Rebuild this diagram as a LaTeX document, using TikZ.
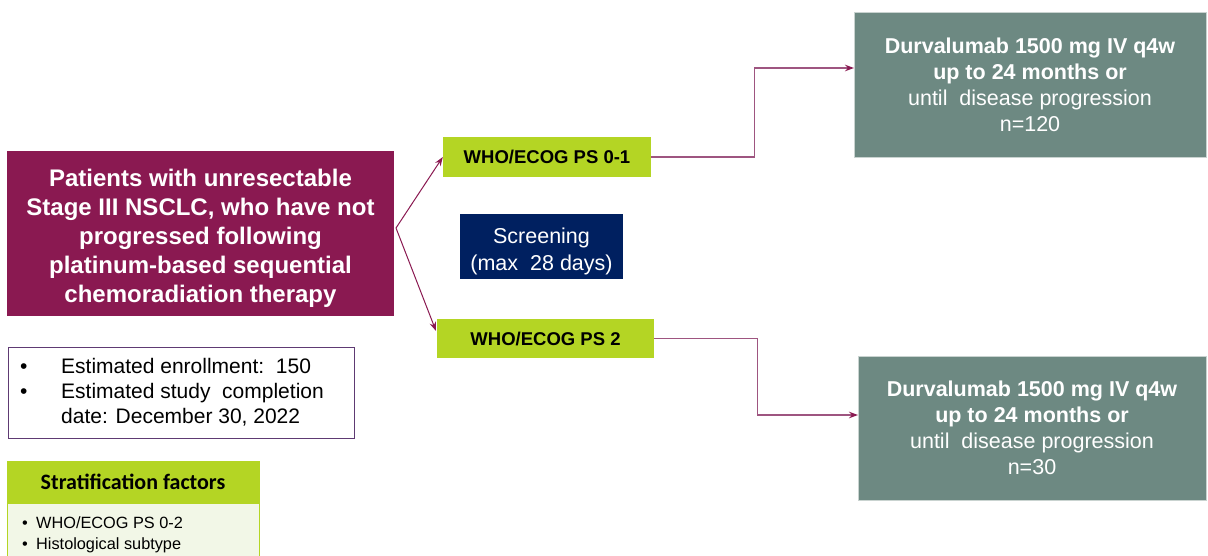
\documentclass[tikz,border=0pt]{standalone}
\usepackage{fontspec}
\setmainfont{Liberation Sans}
\newfontfamily\calibfont{Carlito}
\usetikzlibrary{arrows.meta}
\definecolor{plum}{HTML}{8A1951}
\definecolor{plumline}{HTML}{9E5580}
\definecolor{lime}{HTML}{B4D524}
\definecolor{navy}{HTML}{002060}
\definecolor{slate}{HTML}{6D8982}
\definecolor{slateedge}{HTML}{C9D3D0}
\definecolor{palegreen}{HTML}{F2F7E7}
\definecolor{infoborder}{HTML}{5E3A73}
\begin{document}
\begin{tikzpicture}[x=1pt,y=-1pt,
  box/.style={rectangle, inner sep=0pt, align=center},
  plumbox/.style={box, fill=plum, text=white, minimum width=387pt, minimum height=165pt,
    font=\bfseries\fontsize{24}{29}\selectfont},
  limebox/.style={box, fill=lime, text=black, font=\bfseries\fontsize{18.5}{22}\selectfont},
  screenbox/.style={box, fill=navy, text=white, minimum width=163pt, minimum height=65pt,
    font=\fontsize{21.5}{27}\selectfont},
  durvbox/.style={box, fill=slate, draw=slateedge, line width=0.8pt, text=white,
    font=\fontsize{21.5}{26}\selectfont},
  infobox/.style={rectangle, draw=infoborder, line width=0.9pt, minimum width=346pt, minimum height=91pt, inner sep=0pt},
  infotext/.style={inner sep=0pt, anchor=north west, font=\fontsize{21}{25}\selectfont},
  strathead/.style={rectangle, fill=lime, draw=lime, line width=0.8pt, minimum width=252pt, minimum height=42pt,
    inner sep=0pt, font=\calibfont\bfseries\fontsize{22}{26}\selectfont},
  stratbody/.style={rectangle, fill=palegreen, draw=lime, line width=1pt, minimum width=252pt, minimum height=60pt, inner sep=0pt},
  strattext/.style={inner sep=0pt, anchor=north west, font=\fontsize{16.3}{21}\selectfont},
  diagarrow/.style={draw=plum, line width=1pt, -{Stealth[length=9pt,width=6.5pt]}},
  connline/.style={draw=plumline, line width=1.3pt, -{Stealth[length=9pt,width=6.5pt,color=plum]}}
]
\useasboundingbox (0,0) rectangle (1208,556);

% main patient box
\node[plumbox] (patients) at (200.5,233.5)
  {\rule{0pt}{26pt}Patients with unresectable\\Stage III NSCLC, who have not\\progressed following\\platinum-based sequential\\chemoradiation therapy};

% info box
\node[infobox] (info) at (181,392.5) {};
\node[infotext] (infotxt) at (20,355.5)
  {\begin{tabular}{@{}p{41pt}@{}l@{}}
   \textbullet & Estimated enrollment:\ \ 150\\
   \textbullet & Estimated study\ \ completion\\
               & date: December 30, 2022
   \end{tabular}};

% stratification
\node[stratbody] (stratbox) at (133,533) {};
\node[strathead] (strat) at (133,482) {Stratification factors};
\node[strattext] (strattxt) at (22,514)
  {\begin{tabular}{@{}p{14pt}@{}l@{}}
   \textbullet & WHO/ECOG PS 0-2\\
   \textbullet & Histological subtype
   \end{tabular}};

% PS boxes
\node[limebox, minimum width=208pt, minimum height=40pt] (ps01) at (547,157) {WHO/ECOG PS 0-1};
\node[limebox, minimum width=217pt, minimum height=39pt] (ps2) at (545.5,338.5) {WHO/ECOG PS 2};

% screening
\node[screenbox] (screen) at (541.5,246.5) {\rule{0pt}{25pt}Screening\\(max\ \ 28 days)};

% treatment boxes
\node[durvbox, minimum width=352pt, minimum height=145pt] (durv1) at (1030,84.5)
  {\textbf{Durvalumab 1500 mg IV q4w}\\\textbf{up to 24 months or}\\until\ \ disease progression\\n=120};
\node[durvbox, minimum width=348pt, minimum height=144pt] (durv2) at (1032,428)
  {\textbf{Durvalumab 1500 mg IV q4w}\\\textbf{up to 24 months or}\\until\ \ disease progression\\n=30};

% connectors
\coordinate (split) at (396,228);
\coordinate (ps2in) at (436,331);
\coordinate (d1in) at (854,68);
\coordinate (d2in) at (858,415);
\draw[diagarrow] (split) -- (ps01.west);
\draw[diagarrow] (split) -- (ps2in);
\draw[connline] (ps01.east) -- ++(103,0) |- (d1in);
\draw[connline] (ps2.east) -- ++(103,0) |- (d2in);
\end{tikzpicture}
\end{document}
